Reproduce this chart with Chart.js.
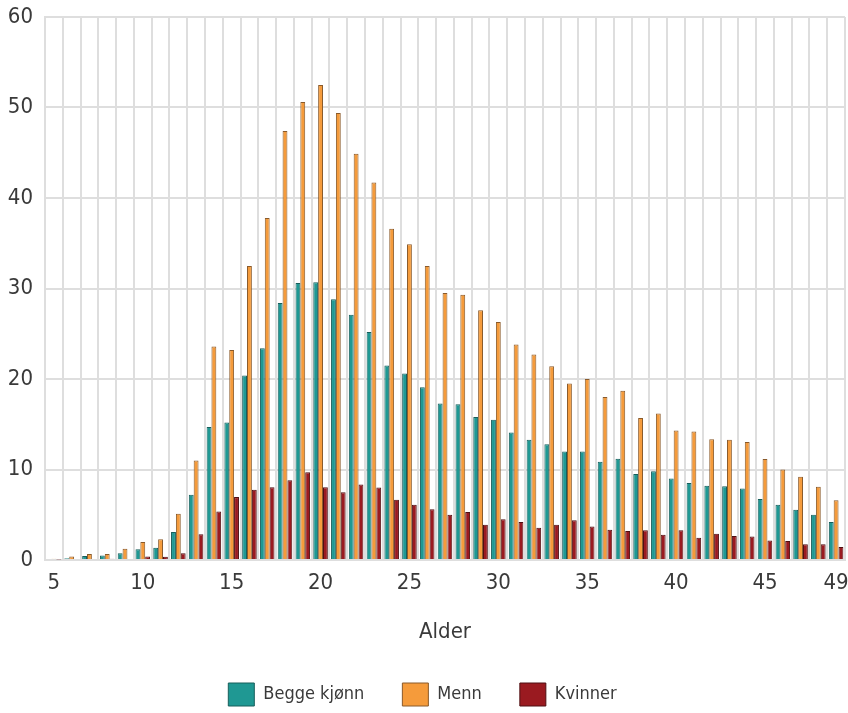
<!DOCTYPE html>
<html>
<head>
<meta charset="utf-8">
<script src="https://cdn.jsdelivr.net/npm/chart.js@4"></script>
<style>
  html, body { margin: 0; padding: 0; background: #fff; }
  #wrap { width: 848px; height: 713px; }
</style>
</head>
<body>
<div id="wrap"><canvas id="c" width="848" height="713"></canvas></div>
<script>
const ages = [5,6,7,8,9,10,11,12,13,14,15,16,17,18,19,20,21,22,23,24,25,26,27,28,29,30,31,32,33,34,35,36,37,38,39,40,41,42,43,44,45,46,47,48,49];
const tickAges = [5,10,15,20,25,30,35,40,45,49];
const beggeKjonn = [0.1,0.2,0.45,0.5,0.75,1.2,1.35,3.1,7.2,14.7,15.2,20.4,23.4,28.4,30.6,30.7,28.8,27.1,25.2,21.5,20.6,19.1,17.3,17.2,15.8,15.5,14.1,13.3,12.8,12.0,12.0,10.85,11.2,9.5,9.8,9.0,8.5,8.2,8.15,7.9,6.75,6.1,5.55,5.0,4.2];
const menn = [0.15,0.4,0.65,0.65,1.25,2.0,2.3,5.1,11.0,23.6,23.2,32.5,37.8,47.4,50.6,52.5,49.4,44.9,41.7,36.6,34.9,32.5,29.5,29.3,27.6,26.3,23.8,22.7,21.4,19.5,20.0,18.0,18.7,15.7,16.2,14.3,14.2,13.35,13.3,13.05,11.15,10.0,9.2,8.1,6.6];
const kvinner = [0.05,0.1,0.1,0.15,0.1,0.4,0.35,0.75,2.85,5.35,6.95,7.75,8.05,8.8,9.7,8.05,7.5,8.35,8.0,6.65,6.1,5.6,5.0,5.3,3.9,4.5,4.2,3.55,3.9,4.4,3.7,3.35,3.2,3.3,2.8,3.3,2.45,2.9,2.65,2.6,2.15,2.1,1.75,1.75,1.45];
const yTicks = [0,10,20,30,40,50,60];

const FONT = "'Liberation Sans Narrow', 'DejaVu Sans Condensed', 'Open Sans', sans-serif";
const gridColor = '#dedede';
const textColor = '#3a3a3a';
const legendPad = 38;

new Chart(document.getElementById('c'), {
  type: 'bar',
  data: {
    labels: ages.map(String),
    datasets: [
      { label: 'Begge kjønn', data: beggeKjonn, backgroundColor: '#1f9893', borderColor: '#175e5b', borderWidth: 1 },
      { label: 'Menn', data: menn, backgroundColor: '#f59b3b', borderColor: '#8a5a2a', borderWidth: 1 },
      { label: 'Kvinner', data: kvinner, backgroundColor: '#9a1a20', borderColor: '#4e0f12', borderWidth: 1 }
    ]
  },
  options: {
    responsive: false,
    animation: false,
    devicePixelRatio: 1,
    layout: { padding: { top: 0, right: 3, left: 0, bottom: 0 } },
    datasets: { bar: { categoryPercentage: 0.82, barPercentage: 1.0 } },
    scales: {
      x: {
        afterFit: function(s) { s.paddingLeft = 0; s.paddingRight = 0; s.height = 85; },
        grid: { color: gridColor, lineWidth: 2, drawTicks: false, offset: true },
        border: { color: gridColor, width: 2 },
        ticks: {
          autoSkip: false, maxRotation: 0, padding: 10,
          color: textColor, font: { family: FONT, size: 22, lineHeight: 1.2 },
          callback: function(v, i) { const a = ages[i]; return tickAges.includes(a) ? String(a) : ''; }
        },
        title: { display: true, text: 'Alder', color: textColor, font: { family: FONT, size: 22, lineHeight: 1.2 }, padding: { top: 22, bottom: 0 } }
      },
      y: {
        min: 0, max: 60,
        afterFit: function(s) { s.width = 45; s.paddingTop = 17; s.paddingBottom = 0; },
        afterBuildTicks: function(s) { s.ticks = yTicks.map(v => ({ value: v })); },
        grid: { color: gridColor, lineWidth: 2, drawTicks: false },
        border: { color: gridColor, width: 2 },
        ticks: { padding: 12, color: textColor, font: { family: FONT, size: 22, lineHeight: 1.2 } }
      }
    },
    plugins: {
      legend: {
        position: 'bottom',
        maxHeight: legendPad + 23 + 7,
        labels: {
          boxWidth: 26, boxHeight: 23, padding: legendPad,
          color: textColor, font: { family: FONT, size: 18 }
        }
      },
      tooltip: { enabled: false }
    }
  }
});
</script>
</body>
</html>
